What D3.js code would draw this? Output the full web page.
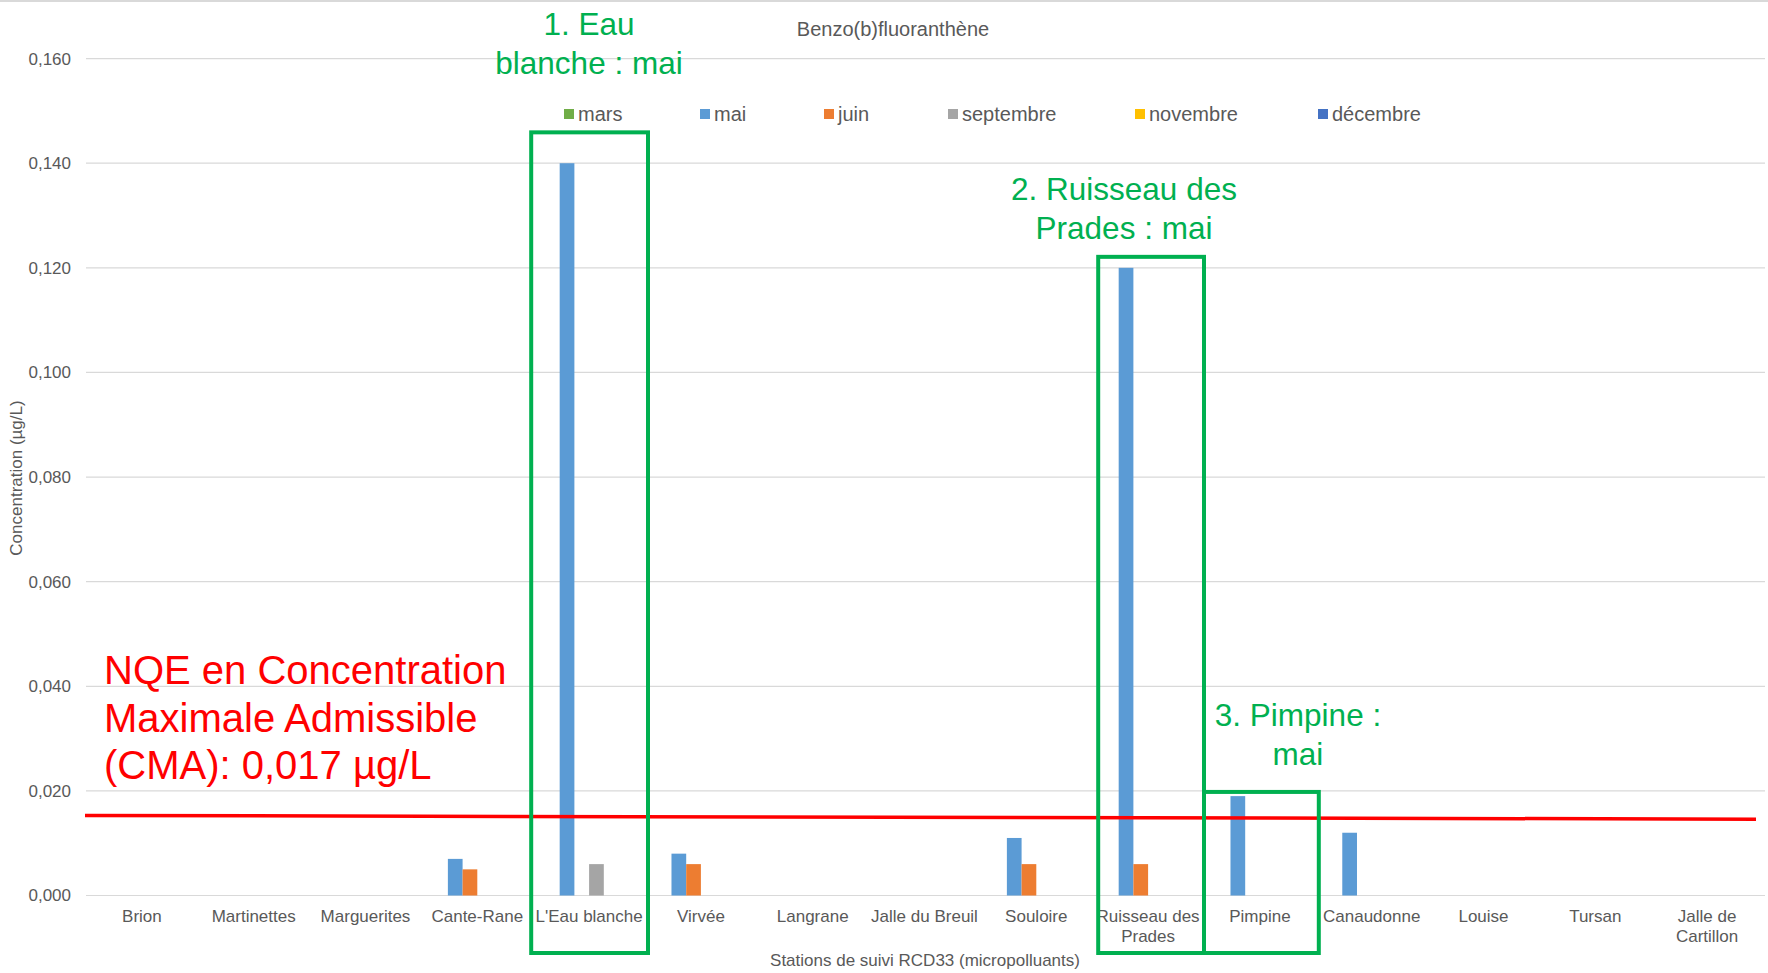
<!DOCTYPE html>
<html>
<head>
<meta charset="utf-8">
<script src="https://cdn.jsdelivr.net/npm/d3@7"></script>
<style>
  html, body { margin: 0; padding: 0; background: #fff; }
  svg { display: block; font-family: "Liberation Sans", Arial, sans-serif; }
</style>
</head>
<body>
<svg id="chart" width="1768" height="973"></svg>
<script>
// ---- Data ----
const stations = ["Brion", "Martinettes", "Marguerites", "Cante-Rane", "L'Eau blanche", "Virvée",
  "Langrane", "Jalle du Breuil", "Souloire", "Ruisseau des Prades", "Pimpine", "Canaudonne",
  "Louise", "Tursan", "Jalle de Cartillon"];
const stationLabels = [["Brion"], ["Martinettes"], ["Marguerites"], ["Cante-Rane"], ["L'Eau blanche"], ["Virvée"],
  ["Langrane"], ["Jalle du Breuil"], ["Souloire"], ["Ruisseau des", "Prades"], ["Pimpine"], ["Canaudonne"],
  ["Louise"], ["Tursan"], ["Jalle de", "Cartillon"]];
const seriesNames = ["mars", "mai", "juin", "septembre", "novembre", "décembre"];
const seriesColors = ["#70AD47", "#5B9BD5", "#ED7D31", "#A5A5A5", "#FFC000", "#4472C4"];
const mars      = [null, null, null, null, null, null, null, null, null, null, null, null, null, null, null];
const mai       = [null, null, null, 0.007, 0.140, 0.008, null, null, 0.011, 0.120, 0.019, 0.012, null, null, null];
const juin      = [null, null, null, 0.005, null, 0.006, null, null, 0.006, 0.006, null, null, null, null, null];
const septembre = [null, null, null, null, 0.006, null, null, null, null, null, null, null, null, null, null];
const novembre  = [null, null, null, null, null, null, null, null, null, null, null, null, null, null, null];
const decembre  = [null, null, null, null, null, null, null, null, null, null, null, null, null, null, null];
const yTicks = [0, 0.02, 0.04, 0.06, 0.08, 0.10, 0.12, 0.14, 0.16];
const nqeLineValues = [0.0153, 0.0146]; // hand-drawn red line (start, end)
const highlightStations = ["L'Eau blanche", "Ruisseau des Prades", "Pimpine"];
const highlightTops = [0.1459, 0.1221, 0.0198];
const highlightTexts = [["1. Eau", "blanche : mai"], ["2. Ruisseau des", "Prades : mai"], ["3. Pimpine :", "mai"]];
const nqeText = ["NQE en Concentration", "Maximale Admissible", "(CMA): 0,017 µg/L"];

const allSeries = [mars, mai, juin, septembre, novembre, decembre];

// ---- Layout ----
const svg = d3.select("#chart");
const W = 1768, H = 973;
const plot = { left: 86, right: 1763, top: 58.6, bottom: 895.5 };
const gray = "#595959";
const green = "#00B050";

svg.append("rect").attr("width", W).attr("height", H).attr("fill", "#fff");
svg.append("line").attr("x1", 0).attr("x2", W).attr("y1", 1).attr("y2", 1)
  .attr("stroke", "#d9d9d9").attr("stroke-width", 2);

const x = d3.scaleBand().domain(stations).range([plot.left, plot.right]).padding(0);
const xs = d3.scaleBand().domain(seriesNames).range([0, x.bandwidth()]).paddingInner(0).paddingOuter(0.8);
const y = d3.scaleLinear().domain([0, 0.16]).range([plot.bottom, plot.top]);

// gridlines
svg.append("g").selectAll("line").data(yTicks).join("line")
  .attr("x1", plot.left).attr("x2", plot.right + 2)
  .attr("y1", d => y(d)).attr("y2", d => y(d))
  .attr("stroke", "#d9d9d9").attr("stroke-width", 1.2);

// y axis labels
const fmt = d => d3.format(".3f")(d).replace(".", ",");
const yAxis = d3.axisLeft(y).tickValues(yTicks).tickFormat(fmt).tickSize(0).tickPadding(15);
const yg = svg.append("g").attr("transform", `translate(${plot.left},0)`).call(yAxis);
yg.select(".domain").remove();
yg.selectAll("text").attr("font-size", 17).attr("fill", gray).attr("font-family", "Liberation Sans, Arial, sans-serif");

// bars
const barData = [];
stations.forEach((s, i) => {
  seriesNames.forEach((n, j) => {
    const v = allSeries[j][i];
    if (v != null) barData.push({ s, n, v, c: seriesColors[j] });
  });
});
svg.append("g").selectAll("rect").data(barData).join("rect")
  .attr("x", d => x(d.s) + xs(d.n))
  .attr("width", xs.bandwidth())
  .attr("y", d => y(d.v))
  .attr("height", d => y(0) - y(d.v))
  .attr("fill", d => d.c);

// x axis category labels
const xg = svg.append("g");
stations.forEach((s, i) => {
  const t = xg.append("text").attr("x", x(s) + x.bandwidth() / 2).attr("y", 922)
    .attr("text-anchor", "middle").attr("font-size", 17).attr("fill", gray);
  stationLabels[i].forEach((line, k) => {
    t.append("tspan").attr("x", x(s) + x.bandwidth() / 2).attr("dy", k === 0 ? 0 : 20).text(line);
  });
});

// axis titles
svg.append("text").attr("x", 925).attr("y", 966).attr("text-anchor", "middle")
  .attr("font-size", 17).attr("fill", gray).text("Stations de suivi RCD33 (micropolluants)");
svg.append("text").attr("transform", "translate(22,478) rotate(-90)").attr("text-anchor", "middle")
  .attr("font-size", 17).attr("fill", gray).text("Concentration (µg/L)");

// title
svg.append("text").attr("x", 893).attr("y", 36).attr("text-anchor", "middle")
  .attr("font-size", 20).attr("fill", gray).text("Benzo(b)fluoranthène");

// legend
const legendX = [564, 700, 824, 948, 1135, 1318];
const lg = svg.append("g");
seriesNames.forEach((n, j) => {
  lg.append("rect").attr("x", legendX[j]).attr("y", 109).attr("width", 10).attr("height", 10).attr("fill", seriesColors[j]);
  lg.append("text").attr("x", legendX[j] + 14).attr("y", 121).attr("font-size", 20).attr("fill", gray).text(n);
});

// NQE red line
svg.append("line")
  .attr("x1", plot.left - 1).attr("x2", plot.right - 7)
  .attr("y1", y(nqeLineValues[0])).attr("y2", y(nqeLineValues[1]))
  .attr("stroke", "#FF0000").attr("stroke-width", 3.5);

// NQE text
const nt = svg.append("text").attr("x", 104).attr("y", 684).attr("font-size", 40).attr("fill", "#FF0000");
nqeText.forEach((l, k) => nt.append("tspan").attr("x", 104).attr("dy", k === 0 ? 0 : 47.5).text(l));

// highlight boxes
const boxBottom = 953;
highlightStations.forEach((s, i) => {
  const x0 = x(s) + (i === 0 ? -2 : (i === 1 ? 6 : 0));
  const x1 = x(s) + x.bandwidth() + (i === 0 ? 3 : (i === 2 ? 3 : 0));
  svg.append("rect").attr("x", x0).attr("y", y(highlightTops[i]))
    .attr("width", x1 - x0).attr("height", boxBottom - y(highlightTops[i]))
    .attr("fill", "none").attr("stroke", green).attr("stroke-width", 4);
});

// highlight texts
const hlPos = [[589, 24], [1124, 189], [1298, 715]];
highlightTexts.forEach((lines, i) => {
  const t = svg.append("text").attr("text-anchor", "middle").attr("font-size", 31.5).attr("fill", green)
    .attr("x", hlPos[i][0]).attr("y", hlPos[i][1] + 11);
  lines.forEach((l, k) => t.append("tspan").attr("x", hlPos[i][0]).attr("dy", k === 0 ? 0 : 38.5).text(l));
});
</script>
</body>
</html>
